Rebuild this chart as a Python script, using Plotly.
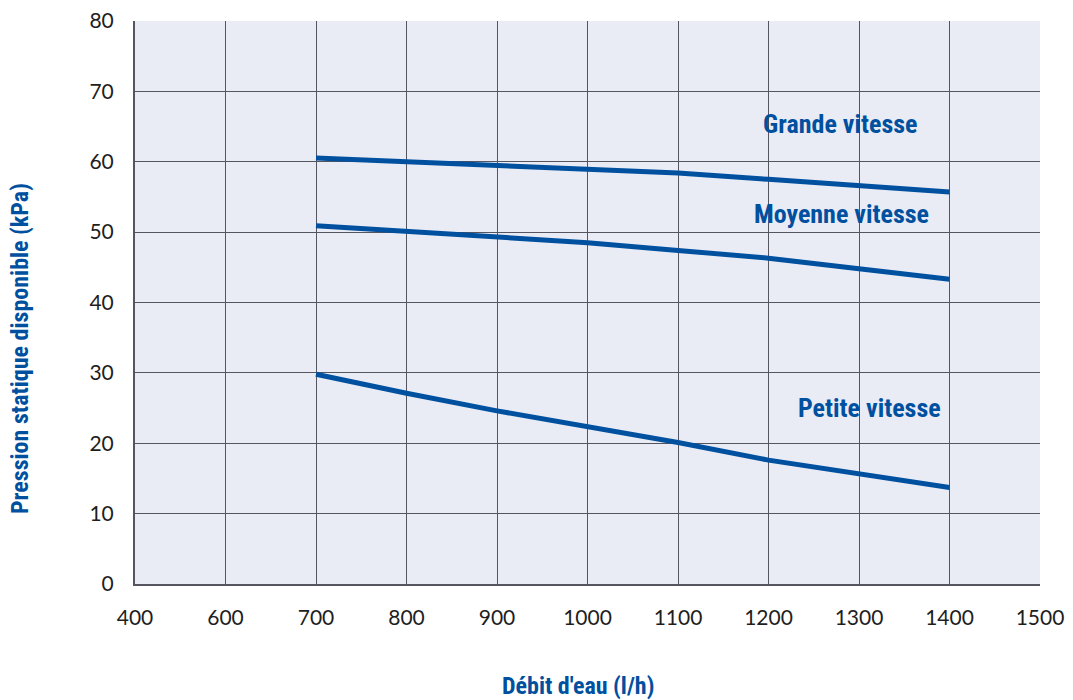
import plotly.graph_objects as go

debit = [700, 800, 900, 1000, 1100, 1200, 1300, 1400]
grande = [60.55, 60.0, 59.4, 58.9, 58.4, 57.5, 56.6, 55.7]
moyenne = [50.9, 50.1, 49.3, 48.5, 47.4, 46.3, 44.8, 43.3]
petite = [29.8, 27.1, 24.6, 22.3, 20.1, 17.6, 15.6, 13.7]

x_tick_vals = [500, 600, 700, 800, 900, 1000, 1100, 1200, 1300, 1400, 1500]
x_tick_text = ["400", "600", "700", "800", "900", "1000", "1100", "1200", "1300", "1400", "1500"]
y_ticks = [0, 10, 20, 30, 40, 50, 60, 70, 80]

labels = ["Grande vitesse", "Moyenne vitesse", "Petite vitesse"]
label_x = [1280, 1281, 1312]
label_y = [65.3, 52.6, 25.0]

x_title = "Débit d'eau (l/h)"
y_title = "Pression statique disponible (kPa)"

BLUE = "#0050a0"
GRID = "#55555f"
TITLE_FONT = "Liberation Sans Narrow, Roboto Condensed, Arial Narrow, sans-serif"
TICK_FONT = "Lato, DejaVu Sans, sans-serif"

fig = go.Figure()
for ys in (grande, moyenne, petite):
    fig.add_trace(go.Scatter(x=debit, y=ys, mode="lines",
                             line=dict(color=BLUE, width=5), showlegend=False,
                             hoverinfo="skip"))

for t, lx, ly in zip(labels, label_x, label_y):
    fig.add_annotation(x=lx, y=ly, text=t, showarrow=False,
                       font=dict(family=TITLE_FONT, size=26, color=BLUE, weight="bold"))

fig.add_annotation(xref="paper", yref="paper", x=0.4895, y=-0.1812,
                   text=x_title, showarrow=False, xanchor="center", yanchor="middle",
                   font=dict(family=TITLE_FONT, size=24, color=BLUE, weight="bold"))
fig.add_annotation(xref="paper", yref="paper", x=-0.1271, y=0.419,
                   text=y_title, showarrow=False, textangle=-90,
                   xanchor="center", yanchor="middle",
                   font=dict(family=TITLE_FONT, size=24, color=BLUE, weight="bold"))

fig.update_layout(
    width=1073, height=700, autosize=False,
    margin=dict(l=135, r=33, t=21, b=116, autoexpand=False),
    paper_bgcolor="white", plot_bgcolor="#e9ebf5",
    showlegend=False,
)
fig.update_xaxes(
    range=[500, 1500], tickvals=x_tick_vals, ticktext=x_tick_text,
    automargin=False,
    showgrid=True, gridcolor=GRID, gridwidth=1.3,
    showline=True, linecolor=GRID, linewidth=2, mirror=False,
    zeroline=False, ticks="outside", ticklen=14, tickcolor="rgba(0,0,0,0)",
    tickfont=dict(family=TICK_FONT, size=21, color="#1e1e1e"),
)
fig.update_yaxes(
    range=[0, 80], tickvals=y_ticks,
    automargin=False,
    showgrid=True, gridcolor=GRID, gridwidth=1.3,
    showline=True, linecolor=GRID, linewidth=2,
    zeroline=False, ticks="outside", ticklen=15, tickcolor="rgba(0,0,0,0)",
    tickfont=dict(family=TICK_FONT, size=21, color="#1e1e1e"),
)

fig.write_html("out.html", config={"responsive": False, "displayModeBar": False},
               post_script="document.body.style.margin='0';document.body.style.overflow='hidden';")
